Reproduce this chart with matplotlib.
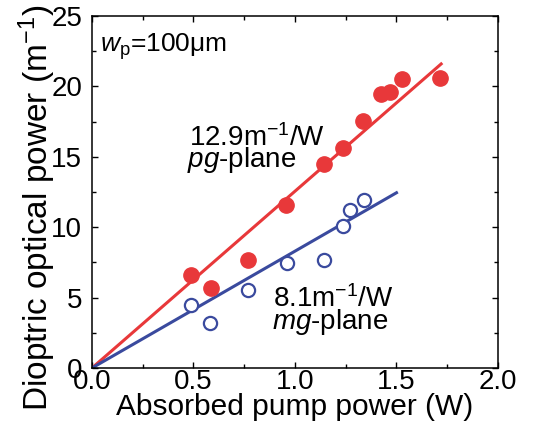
import matplotlib
matplotlib.use("Agg")
import matplotlib.pyplot as plt

plt.rcParams['font.family'] = ['Liberation Sans', 'DejaVu Sans']
plt.rcParams['mathtext.fontset'] = 'custom'
plt.rcParams['mathtext.rm'] = 'Liberation Sans'
plt.rcParams['mathtext.it'] = 'Liberation Sans:italic'

# pg-plane (filled red) and mg-plane (open blue) data
pg_x = [0.486, 0.585, 0.771, 0.956, 1.145, 1.239, 1.334, 1.425, 1.469, 1.527, 1.712]
pg_y = [6.62, 5.68, 7.69, 11.59, 14.47, 15.61, 17.57, 19.44, 19.58, 20.51, 20.58]
mg_x = [0.486, 0.582, 0.771, 0.960, 1.145, 1.239, 1.272, 1.338]
mg_y = [4.49, 3.19, 5.56, 7.45, 7.69, 10.10, 11.19, 11.94]

# linear fits through origin
pg_fit_x = [0.0, 1.72]
pg_fit_y = [0.0, 21.6]
mg_fit_x = [0.0, 1.50]
mg_fit_y = [0.0, 12.45]

red = '#e8383a'
blue = '#3a4a9e'

fig = plt.figure(figsize=(5.41, 4.23), dpi=100)
ax = fig.add_axes([0.170, 0.130, 0.7505, 0.832])

ax.plot(pg_fit_x, pg_fit_y, color=red, lw=2.2)
ax.plot(mg_fit_x, mg_fit_y, color=blue, lw=2.2)
ax.plot(pg_x, pg_y, 'o', color=red, ms=11, mec=red)
ax.plot(mg_x, mg_y, 'o', mfc='white', mec=blue, mew=1.6, ms=9.5)

ax.set_xlim(0, 2.0)
ax.set_ylim(0, 25)
ax.set_xticks([0, 0.5, 1.0, 1.5, 2.0])
ax.set_xticklabels(['0.0', '0.5', '1.0', '1.5', '2.0'])
ax.set_yticks([0, 5, 10, 15, 20, 25])
ax.set_xticks([0.25, 0.75, 1.25, 1.75], minor=True)
ax.set_yticks([2.5, 7.5, 12.5, 17.5, 22.5], minor=True)
ax.tick_params(which='both', direction='in', top=True, right=True, labelsize=20)
ax.tick_params(which='major', length=4.5, width=1)
ax.tick_params(which='minor', length=3, width=1)
ax.tick_params(axis='x', pad=1)
ax.tick_params(axis='y', pad=7)
for s in ax.spines.values():
    s.set_linewidth(1.1)

ax.set_xlabel('Absorbed pump power (W)', fontsize=21.5, labelpad=-2)
ax.set_ylabel('Dioptric optical power (m$^{-1}$)', fontsize=24)
ax.yaxis.set_label_coords(-0.084, 0.455)

ax.text(0.04, 23.9, r'$w_{\rm p}$=100μm', fontsize=19, va='top')
ax.text(0.48, 15.8, r'12.9m$^{-1}$/W', fontsize=20)
ax.text(0.47, 14.3, r'$pg$-plane', fontsize=20)
ax.text(0.89, 4.3, r'8.1m$^{-1}$/W', fontsize=20)
ax.text(0.885, 2.8, r'$mg$-plane', fontsize=20)

fig.savefig('out.png', dpi=100)
